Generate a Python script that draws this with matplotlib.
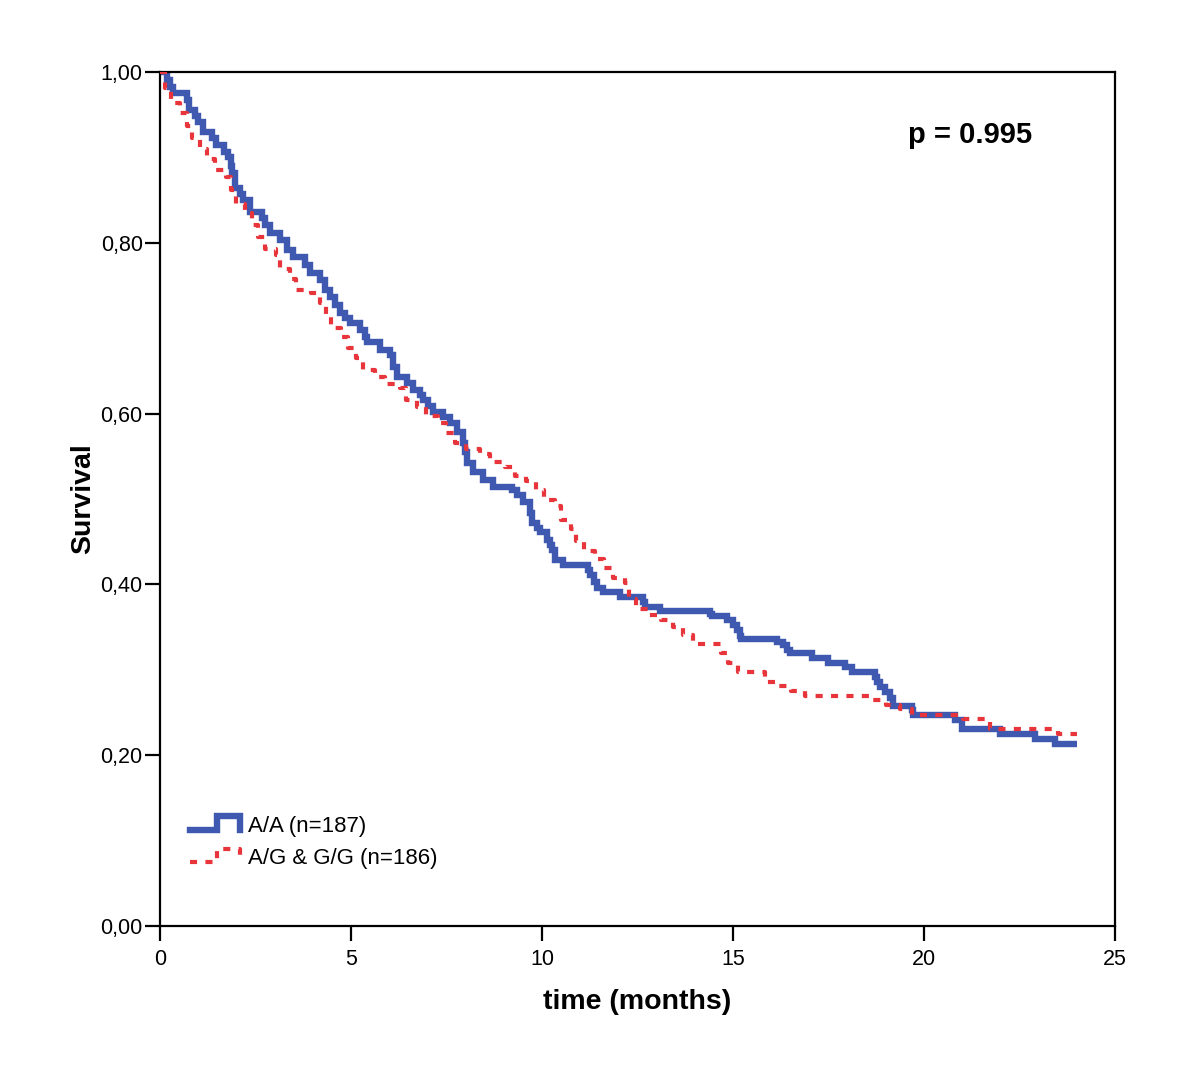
import matplotlib
matplotlib.use("Agg")
import matplotlib.pyplot as plt
from matplotlib.ticker import FuncFormatter

plt.rcParams['font.family'] = ['Liberation Sans', 'DejaVu Sans']

# Kaplan-Meier steps: (time of drop in months, survival after drop)
aa_t = [0.18, 0.26, 0.34, 0.71, 0.76, 0.92, 0.99, 1.13, 1.36, 1.47, 1.68, 1.78, 1.86, 1.88,
        1.96, 2.09, 2.17, 2.36, 2.67, 2.75, 2.88, 3.14, 3.32, 3.48, 3.80, 3.93, 4.19, 4.32,
        4.45, 4.58, 4.71, 4.84, 4.97, 5.24, 5.37, 5.42, 5.76, 6.02, 6.10, 6.20, 6.47, 6.62,
        6.81, 6.88, 7.02, 7.15, 7.41, 7.59, 7.77, 7.93, 7.98, 8.04, 8.19, 8.46, 8.72, 9.21,
        9.35, 9.50, 9.69, 9.74, 9.87, 9.95, 10.13, 10.21, 10.26, 10.34, 10.55, 11.20, 11.26,
        11.36, 11.44, 11.60, 12.04, 12.64, 12.70, 13.09, 14.40, 14.45, 14.84, 15.00, 15.10,
        15.18, 15.21, 16.15, 16.31, 16.41, 16.49, 17.07, 17.49, 17.93, 18.12, 18.72, 18.77,
        18.85, 18.98, 19.11, 19.19, 19.69, 19.71, 20.81, 20.99, 21.99, 22.91, 23.43]
aa_s = [0.991, 0.982, 0.975, 0.967, 0.956, 0.948, 0.941, 0.930, 0.923, 0.914, 0.906, 0.900,
        0.890, 0.882, 0.864, 0.857, 0.850, 0.836, 0.829, 0.821, 0.811, 0.803, 0.792, 0.783,
        0.774, 0.765, 0.756, 0.745, 0.737, 0.727, 0.718, 0.712, 0.706, 0.698, 0.690, 0.684,
        0.674, 0.669, 0.655, 0.643, 0.636, 0.628, 0.622, 0.616, 0.609, 0.602, 0.596, 0.589,
        0.578, 0.566, 0.555, 0.542, 0.532, 0.522, 0.514, 0.511, 0.505, 0.496, 0.484, 0.472,
        0.466, 0.461, 0.452, 0.446, 0.440, 0.429, 0.423, 0.417, 0.411, 0.403, 0.396, 0.391,
        0.385, 0.379, 0.374, 0.369, 0.365, 0.363, 0.358, 0.352, 0.347, 0.340, 0.336, 0.333,
        0.329, 0.323, 0.320, 0.314, 0.308, 0.303, 0.297, 0.292, 0.286, 0.280, 0.274, 0.267,
        0.258, 0.253, 0.247, 0.241, 0.231, 0.225, 0.219, 0.213]
aa_end = 24.0

ag_t = [0.13, 0.29, 0.52, 0.71, 0.84, 1.05, 1.23, 1.44, 1.73, 1.86, 1.99, 2.23, 2.41, 2.57,
        2.75, 3.04, 3.14, 3.40, 3.56, 3.95, 4.19, 4.35, 4.48, 4.74, 4.92, 5.13, 5.31, 5.63,
        5.89, 6.28, 6.44, 6.73, 6.96, 7.28, 7.49, 7.72, 8.01, 8.38, 8.64, 9.03, 9.29, 9.58,
        9.84, 10.05, 10.34, 10.50, 10.76, 10.89, 11.10, 11.39, 11.62, 11.86, 12.17, 12.28,
        12.46, 12.77, 13.12, 13.43, 13.69, 13.95, 14.69, 14.87, 15.13, 15.84, 16.18, 16.52,
        16.88, 18.66, 19.01, 19.37, 19.69, 21.02, 21.73, 23.51]
ag_s = [0.981, 0.964, 0.952, 0.937, 0.923, 0.910, 0.898, 0.885, 0.877, 0.862, 0.845, 0.835,
        0.821, 0.807, 0.793, 0.786, 0.769, 0.758, 0.745, 0.741, 0.730, 0.715, 0.700, 0.690,
        0.677, 0.665, 0.651, 0.643, 0.635, 0.630, 0.616, 0.608, 0.597, 0.589, 0.577, 0.566,
        0.559, 0.553, 0.543, 0.537, 0.527, 0.521, 0.511, 0.499, 0.492, 0.475, 0.465, 0.451,
        0.439, 0.430, 0.419, 0.407, 0.402, 0.383, 0.371, 0.364, 0.358, 0.350, 0.341, 0.330,
        0.320, 0.308, 0.297, 0.286, 0.281, 0.275, 0.269, 0.265, 0.259, 0.254, 0.247, 0.242,
        0.231, 0.225]
ag_end = 24.0

labels = ['A/A (n=187)', 'A/G & G/G (n=186)']
p_text = 'p = 0.995'

BLUE = '#3F58B0'
RED = '#E8353B'
DOTS = (0, (1.7, 2.0))


def curve(t, s, end):
    xs = [0.0] + list(t) + [end]
    ys = [1.0] + list(s) + [s[-1]]
    return xs, ys


fig = plt.figure(figsize=(12, 10.84), dpi=100)
ax = fig.add_axes([160 / 1200, 1 - 926 / 1084, 955 / 1200, 854 / 1084])

x, y = curve(ag_t, ag_s, ag_end)
ax.step(x, y, where='post', color=RED, lw=3.0, linestyle=DOTS, dash_capstyle='butt', zorder=3)
x, y = curve(aa_t, aa_s, aa_end)
ax.step(x, y, where='post', color=BLUE, lw=4.6, solid_joinstyle='miter',
        solid_capstyle='butt', zorder=2)

ax.set_xlim(0, 25)
ax.set_ylim(0, 1.0)
ax.set_xticks([0, 5, 10, 15, 20, 25])
ax.set_yticks([0, 0.2, 0.4, 0.6, 0.8, 1.0])
ax.yaxis.set_major_formatter(FuncFormatter(lambda v, pos: ('%.2f' % v).replace('.', ',')))
ax.tick_params(direction='out', length=10.5, width=1.6, labelsize=15.5)
ax.tick_params(axis='x', pad=6)
ax.tick_params(axis='y', pad=2)
for sp in ax.spines.values():
    sp.set_linewidth(1.6)

ax.set_xlabel('time (months)', fontsize=20.5, fontweight='bold', labelpad=14)
ax.set_ylabel('Survival', fontsize=20.5, fontweight='bold', labelpad=3)

ax.text(0.783, 0.926, p_text, transform=ax.transAxes, fontsize=21, fontweight='bold',
        ha='left', va='center')

# legend drawn like the SPSS step-shaped keys
hx = [0.0314, 0.0597, 0.0597, 0.0838, 0.0838]
ax.plot(hx, [0.1124, 0.1124, 0.1288, 0.1288, 0.1124], transform=ax.transAxes,
        color=BLUE, lw=4.6, solid_joinstyle='miter', clip_on=False)
ax.plot(hx, [0.0749, 0.0749, 0.0902, 0.0902, 0.0749], transform=ax.transAxes,
        color=RED, lw=3.0, linestyle=DOTS, clip_on=False)
ax.text(0.0921, 0.116, labels[0], transform=ax.transAxes, fontsize=16, va='center')
ax.text(0.0921, 0.0785, labels[1], transform=ax.transAxes, fontsize=16, va='center')

fig.savefig('out.png', dpi=100)
